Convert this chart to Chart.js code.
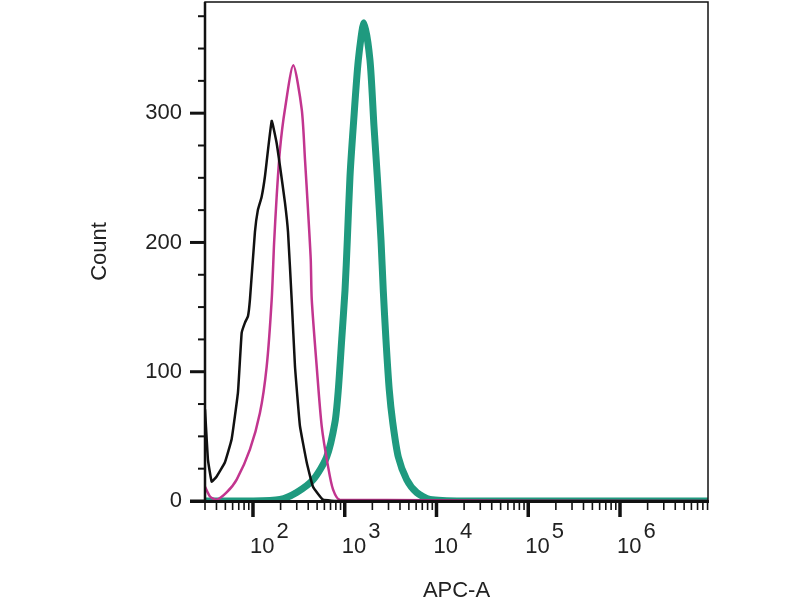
<!DOCTYPE html>
<html>
<head>
<meta charset="utf-8">
<script src="https://cdn.jsdelivr.net/npm/chart.js@4/dist/chart.umd.min.js"></script>
<style>
  html, body { margin: 0; padding: 0; background: #fff; }
  #chart { display: block; }
</style>
</head>
<body>
<canvas id="chart" width="800" height="600"></canvas>
<script>
// Histogram data (APC-A intensity vs count)
const blackApc   = [30, 32.3, 35.5, 40.2, 49.5, 58.6, 68.6, 75.3, 81.8, 88.2, 92.7, 105, 113, 124, 135, 160, 181, 197, 223, 241, 264, 287, 325, 385, 451, 579, 887, 9100000];
const blackCount = [71, 32, 15, 19, 30, 48, 84, 130, 138, 143, 156, 208, 225, 235, 251, 294, 277, 259, 231, 208, 156, 104, 58, 30, 11, 1, 0, 0];

const pinkApc   = [30, 34, 40.2, 51.6, 66.4, 92.7, 119, 141, 160, 170, 181, 197, 223, 275, 340, 369, 398, 426, 437, 495, 561, 657, 745, 887, 9100000];
const pinkCount = [11, 3.5, 1, 6.6, 16.6, 40, 68, 104, 156, 200, 235, 272, 303, 337, 303, 264, 225, 187, 156, 104, 58, 27, 9, 1, 0];

const tealApc   = [30, 92.7, 197, 299, 454, 635, 783, 851, 927, 1007, 1067, 1141, 1240, 1406, 1622, 1884, 2083, 2264, 2484, 2630, 2812, 3056, 3333, 3836, 4733, 6083, 8491, 20000, 9100000];
const tealCount = [0, 0, 1.2, 6.6, 16.6, 34, 61, 86, 125, 163, 202, 251, 290, 341, 370, 341, 290, 251, 202, 163, 125, 86, 61, 34, 16.6, 6.6, 1.2, 0, 0];

// axis ticks
const yMajorTicks = [0, 100, 200, 300];
const yMinorStep = 25;
const xDecadeExponents = [2, 3, 4, 5, 6];

const FONT = "'Liberation Sans', Arial, sans-serif";
const TEXT_COLOR = '#222';

function toPoints(xs, ys) {
  return xs.map((x, i) => ({ x: x, y: ys[i] }));
}

// Frame, tick marks and the 10^n labels
const axisDecor = {
  id: 'axisDecor',
  afterDatasetsDraw(chart) {
    const { ctx, chartArea: a, scales: { x, y } } = chart;
    ctx.save();
    ctx.strokeStyle = '#111';

    // thin frame on top/right
    ctx.lineWidth = 1.5;
    ctx.strokeRect(a.left, a.top, a.right - a.left, a.bottom - a.top);

    // heavier left and bottom axes
    ctx.lineWidth = 2.5;
    ctx.beginPath();
    ctx.moveTo(a.left, a.top);
    ctx.lineTo(a.left, a.bottom + 1);
    ctx.stroke();
    ctx.lineWidth = 3;
    ctx.beginPath();
    ctx.moveTo(a.left - 15, a.bottom + 0.5);
    ctx.lineTo(a.right + 1, a.bottom + 0.5);
    ctx.stroke();

    // y ticks
    for (let v = 0; v <= y.max; v += yMinorStep) {
      const py = y.getPixelForValue(v);
      const major = yMajorTicks.includes(v);
      ctx.lineWidth = major ? 3 : 2;
      ctx.beginPath();
      ctx.moveTo(a.left, py);
      ctx.lineTo(a.left - (major ? 15 : 7), py);
      ctx.stroke();
    }

    // x ticks (log decades)
    const lo = Math.floor(Math.log10(x.min));
    const hi = Math.ceil(Math.log10(x.max));
    for (let e = lo; e <= hi; e++) {
      for (let m = 1; m <= 9; m++) {
        const v = m * Math.pow(10, e);
        if (v < x.min || v > x.max) continue;
        const px = x.getPixelForValue(v);
        const major = m === 1;
        ctx.lineWidth = major ? 3.5 : 1.6;
        ctx.beginPath();
        ctx.moveTo(px, a.bottom);
        ctx.lineTo(px, a.bottom + (major ? 16 : 9));
        ctx.stroke();
      }
    }

    // decade labels: "10" with a raised exponent
    ctx.fillStyle = TEXT_COLOR;
    ctx.font = '22px ' + FONT;
    ctx.textAlign = 'left';
    ctx.textBaseline = 'alphabetic';
    xDecadeExponents.forEach(e => {
      const px = x.getPixelForValue(Math.pow(10, e));
      const base = '10';
      const left = px - 3;
      ctx.fillText(base, left, a.bottom + 52);
      ctx.fillText(String(e), left + ctx.measureText(base).width + 2, a.bottom + 37);
    });
    ctx.restore();
  }
};

const ctx = document.getElementById('chart').getContext('2d');
new Chart(ctx, {
  type: 'scatter',
  data: {
    datasets: [
      {
        label: 'Isotype',
        data: toPoints(blackApc, blackCount),
        showLine: true,
        borderColor: '#111111',
        borderWidth: 2.5,
        pointRadius: 0,
        tension: 0.1
      },
      {
        label: 'Unstained',
        data: toPoints(pinkApc, pinkCount),
        showLine: true,
        borderColor: '#c2358f',
        borderWidth: 2.5,
        pointRadius: 0,
        tension: 0.25
      },
      {
        label: 'APC',
        data: toPoints(tealApc, tealCount),
        showLine: true,
        borderColor: '#1f9a7f',
        borderWidth: 7,
        pointRadius: 0,
        tension: 0.25
      }
    ]
  },
  options: {
    responsive: false,
    animation: false,
    layout: { padding: { top: 2, right: 92, left: 0, bottom: 0 } },
    plugins: {
      legend: { display: false },
      tooltip: { enabled: false }
    },
    scales: {
      x: {
        type: 'logarithmic',
        min: 30,
        max: 9100000,
        grid: { display: false, drawTicks: false },
        border: { display: false },
        ticks: { display: false },
        title: {
          display: true,
          text: 'APC-A',
          color: TEXT_COLOR,
          font: { size: 22, family: FONT, lineHeight: 0.8 },
          padding: { top: 0, bottom: 0 }
        },
        afterFit(scale) { scale.height = 99; }
      },
      y: {
        type: 'linear',
        min: 0,
        max: 386,
        // tick marks are drawn by axisDecor; the length only spaces the labels
        grid: { display: false, drawTicks: true, tickLength: 20 },
        border: { display: false },
        afterBuildTicks(scale) {
          scale.ticks = yMajorTicks.map(v => ({ value: v }));
        },
        ticks: {
          color: TEXT_COLOR,
          font: { size: 22, family: FONT },
          padding: 3
        },
        title: {
          display: true,
          text: 'Count',
          color: TEXT_COLOR,
          font: { size: 22, family: FONT, lineHeight: 1.2 },
          padding: { top: 87, bottom: 0 }
        },
        afterFit(scale) {
          scale.width = 205;
          // no label overhang above the plot: the frame sits at the top edge
          scale.paddingTop = 0;
          scale.paddingBottom = 0;
        }
      }
    }
  },
  plugins: [axisDecor]
});
</script>
</body>
</html>
